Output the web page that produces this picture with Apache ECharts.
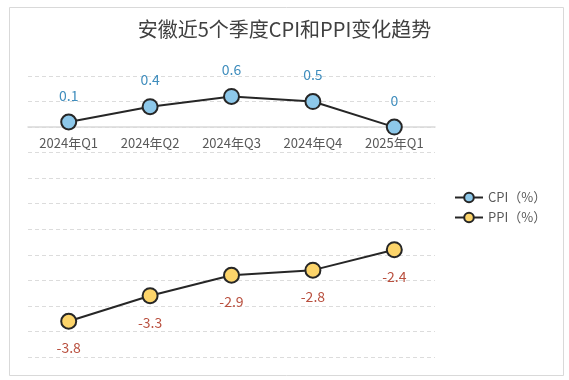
<!DOCTYPE html>
<html>
<head>
<meta charset="utf-8">
<script src="https://cdn.jsdelivr.net/npm/echarts@6/dist/echarts.min.js"></script>
<style>
html,body{margin:0;padding:0;background:#fff;}
#main{width:569px;height:380px;}
</style>
</head>
<body>
<div id="main"></div>
<script>
var categories = ['2024年Q1','2024年Q2','2024年Q3','2024年Q4','2025年Q1'];
var cpiValues = [0.1, 0.4, 0.6, 0.5, 0];
var ppiValues = [-3.8, -3.3, -2.9, -2.8, -2.4];
var seriesNames = ['CPI（%）','PPI（%）'];
var titleText = '安徽近5个季度CPI和PPI变化趋势';

var FONT = '"Noto Sans CJK SC", "Noto Sans", sans-serif';
var yMin = -4.5, yMax = 1;
var gridTop = 76, gridBottom = 23, chartH = 380;
var plotH = chartH - gridTop - gridBottom;
// move x axis up to the zero line using the value scale
var zeroOffset = -plotH * (0 - yMin) / (yMax - yMin);

var chart = echarts.init(document.getElementById('main'), null, {renderer:'canvas'});
chart.setOption({
  backgroundColor:'#ffffff',
  animation:false,
  textStyle:{fontFamily:FONT},
  title:{
    text:titleText, left:'center', top:14,
    textStyle:{fontFamily:FONT, fontSize:20, fontWeight:'normal', color:'#404040'}
  },
  graphic:[{
    type:'rect', left:7, top:5, silent:true,
    shape:{width:554, height:368},
    style:{fill:'none', stroke:'#d9d9d9', lineWidth:1}
  }],
  legend:{
    orient:'vertical', left:449, top:186, itemGap:7,
    itemWidth:28, itemHeight:12,
    textStyle:{fontFamily:FONT, fontSize:13, color:'#595959'},
    data:seriesNames
  },
  grid:{left:28, right:134, top:gridTop, bottom:gridBottom, containLabel:false},
  xAxis:{
    type:'category', data:categories, boundaryGap:true,
    offset:zeroOffset,
    axisLine:{onZero:false, lineStyle:{color:'#d9d9d9', width:1.5}},
    axisTick:{show:false},
    axisLabel:{fontFamily:FONT, fontSize:13, color:'#595959', margin:9}
  },
  yAxis:{
    type:'value', min:yMin, max:yMax, interval:0.5,
    axisLine:{show:false}, axisTick:{show:false}, axisLabel:{show:false},
    splitLine:{lineStyle:{color:'#dcdcdc', type:[4,3], width:1}}
  },
  series:[
    {
      name:seriesNames[0], type:'line', data:cpiValues,
      symbol:'circle', symbolSize:15,
      lineStyle:{color:'#262626', width:2},
      itemStyle:{color:'#8dc8ea', borderColor:'#262626', borderWidth:2},
      label:{show:true, position:'top', distance:11, fontFamily:FONT, fontSize:14, color:'#3f8dbd'}
    },
    {
      name:seriesNames[1], type:'line', data:ppiValues,
      symbol:'circle', symbolSize:15,
      lineStyle:{color:'#262626', width:2},
      itemStyle:{color:'#fcd46a', borderColor:'#262626', borderWidth:2},
      label:{show:true, position:'bottom', distance:11, fontFamily:FONT, fontSize:14, color:'#b9503f'}
    }
  ]
});
</script>
</body>
</html>
